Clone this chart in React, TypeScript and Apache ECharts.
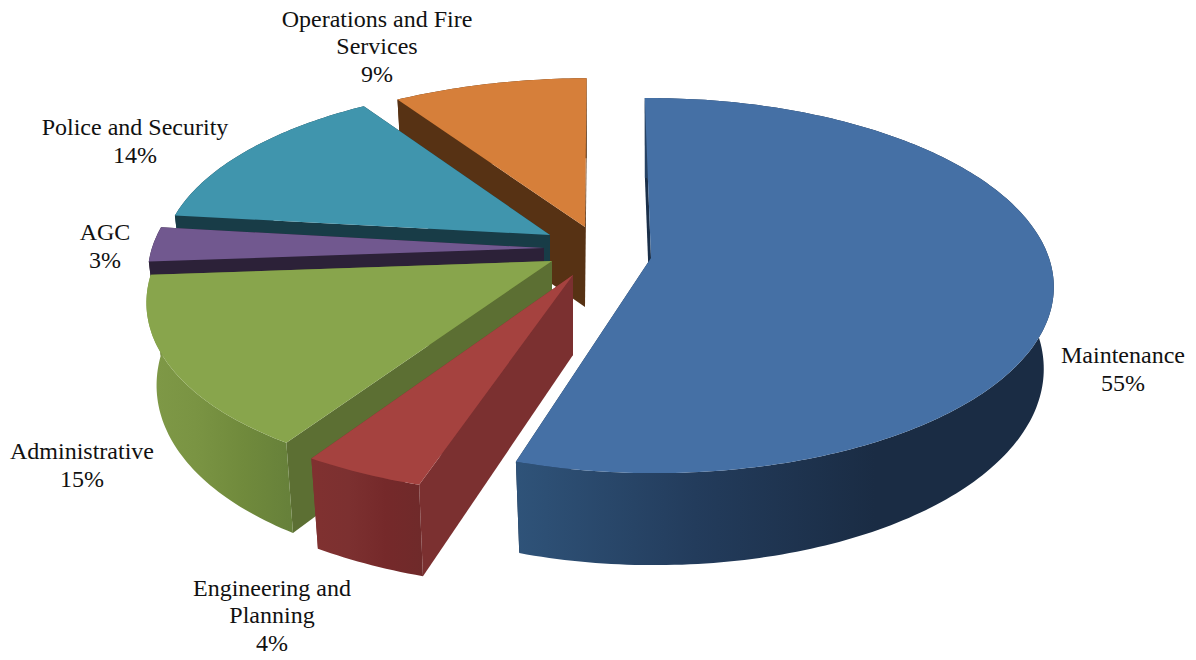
import React, { useEffect, useRef } from "react";
import * as echarts from "echarts";

// Budget share by department, clockwise from twelve o'clock.
const categories = [
  "Maintenance",
  "Engineering and\nPlanning",
  "Administrative",
  "AGC",
  "Police and Security",
  "Operations and Fire\nServices",
];
const shares = [55, 4, 15, 3, 14, 9];

// Colours per slice: top face, radial wall, outer wall gradient stops.
const topColors = ["#4570a5", "#a5423f", "#88a54c", "#71588f", "#4095ad", "#d67f3a"];
const wallColors = ["#1a2f49", "#7b3030", "#5c6f33", "#2c2138", "#183c47", "#573214"];
const rimColors = [
  ["#2f5379", "#233c5c", "#1a2c44", "#1a2c44"],
  ["#803130", "#7c3030", "#75292a", "#6f2a2a"],
  ["#7f9947", "#7a9443", "#708a3c", "#66803a"],
  ["#2c2138", "#2c2138", "#2c2138", "#2c2138"],
  ["#183c47", "#183c47", "#183c47", "#183c47"],
  ["#573214", "#573214", "#573214", "#573214"],
];

// Exploded placement of each wedge: apex on screen, scale and shear of the disc.
const apexX = [651, 573, 552, 544, 550, 585];
const apexY = [258, 275, 261, 248, 235, 227];
const stretchX = [0.995, 1.066, 0.99, 0.98, 0.96, 0.99];
const stretchY = [1, 1.03, 1.02, 1, 0.94, 0.93];
const shear = [3, -5, -28, 0, 0, -6];

// Label anchors: centre of the text block.
const labelX = [1123, 272, 82, 105, 135, 377];
const labelY = [369, 615, 465, 246, 141, 46];

// Projection of the unit disc, viewed from above with perspective.
const RADIUS_X = 400;
const RADIUS_Y = 183.5;
const PERSPECTIVE = 0.147;
const START_DEG = -0.6;

function project(i: number, deg: number, r = 1) {
  const t = (deg * Math.PI) / 180;
  const u = Math.sin(t) * r;
  const v = -Math.cos(t) * r;
  const w = 1 - PERSPECTIVE * v;
  return { dx: (stretchX[i] * RADIUS_X * u + shear[i] * v) / w, dy: (stretchY[i] * RADIUS_Y * v) / w, v };
}

function topPoint(i: number, deg: number) {
  const p = project(i, deg);
  return [apexX[i] + p.dx, apexY[i] + p.dy];
}

function bottomPoint(i: number, deg: number) {
  const p = project(i, deg);
  const depth = 80 + 12 * Math.max(p.v, 0);
  return [apexX[i] + p.dx * 0.975, apexY[i] + p.dy + depth];
}

function renderSlice(params: any) {
  // Painted back to front, so the first datum is the last wedge.
  const i = categories.length - 1 - params.dataIndex;
  const total = shares.reduce((a, b) => a + b, 0);
  const before = shares.slice(0, i).reduce((a, b) => a + b, 0);
  const from = START_DEG + (before / total) * 360;
  const to = from + (shares[i] / total) * 360;

  const top: number[][] = [];
  const bottom: number[][] = [];
  const steps = Math.max(4, Math.ceil(to - from));
  for (let s = 0; s <= steps; s++) {
    const deg = from + ((to - from) * s) / steps;
    top.push(topPoint(i, deg));
    bottom.push(bottomPoint(i, deg));
  }
  const apex = [apexX[i], apexY[i]];
  const apexLow = [apexX[i], apexY[i] + 80];
  const radial = (k: number) => [apex, top[k], bottom[k], apexLow];
  const stops = rimColors[i].map((color, n) => ({ offset: n / 3, color }));

  // Far radial wall first, near radial wall next, then rim and top face.
  return {
    type: "group",
    children: [
      { type: "polygon", shape: { points: radial(steps) }, style: { fill: wallColors[i] } },
      { type: "polygon", shape: { points: radial(0) }, style: { fill: wallColors[i] } },
      {
        type: "polygon",
        shape: { points: [...top, ...bottom.slice().reverse()] },
        style: { fill: new echarts.graphic.LinearGradient(0, 0, 1, 0, stops) },
      },
      { type: "polygon", shape: { points: [apex, ...top] }, style: { fill: topColors[i] } },
      {
        type: "text",
        x: labelX[i],
        y: labelY[i],
        z2: 10,
        style: {
          text: `${categories[i]}\n${shares[i]}%`,
          fontFamily: "Liberation Serif",
          fontSize: 24,
          lineHeight: 27.5,
          fill: "#111111",
          align: "center",
          verticalAlign: "middle",
        },
      },
    ],
  };
}

export default function App() {
  const ref = useRef<HTMLDivElement>(null);
  useEffect(() => {
    const chart = echarts.init(ref.current!, undefined, { renderer: "svg" });
    chart.setOption({
      animation: false,
      backgroundColor: "#ffffff",
      series: [
        {
          type: "custom",
          coordinateSystem: "none",
          silent: true,
          clip: false,
          renderItem: renderSlice,
          data: categories.map((_, n) => shares[categories.length - 1 - n]),
        },
      ],
    });
    return () => chart.dispose();
  }, []);
  return <div ref={ref} style={{ position: "absolute", left: 0, top: 0, width: 1196, height: 660 }} />;
}
